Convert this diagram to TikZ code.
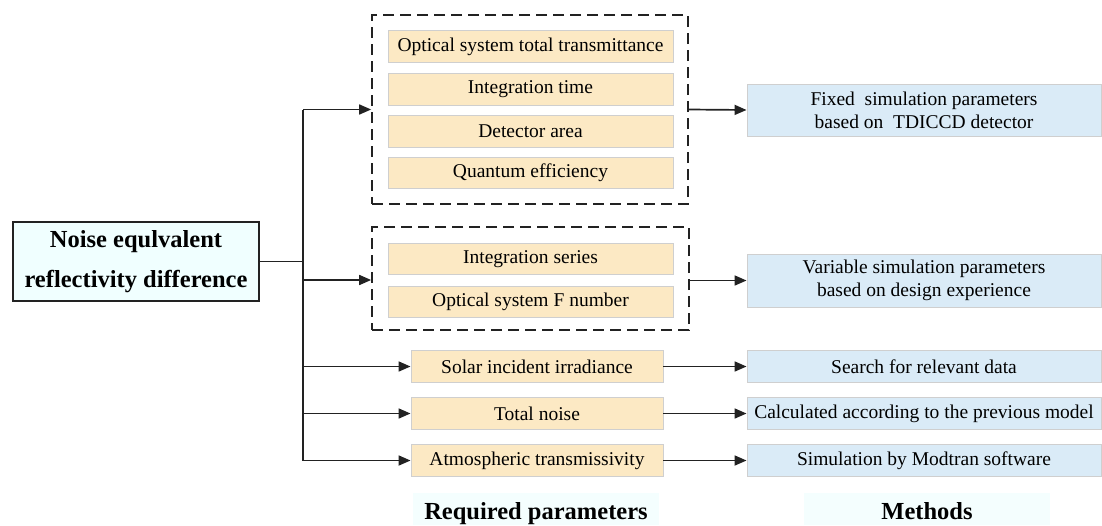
\documentclass[tikz,border=0pt]{standalone}
\usepackage{fontspec}
\setmainfont{Liberation Serif}
\usetikzlibrary{arrows.meta}
\definecolor{orfill}{HTML}{FCE9C4}
\definecolor{blfill}{HTML}{DAEBF7}
\definecolor{mainfill}{HTML}{F0FFFF}
\definecolor{labfill}{HTML}{F4FEFE}
\definecolor{boxline}{HTML}{CFCFCF}
\definecolor{darkline}{HTML}{222222}
\begin{document}
\begin{tikzpicture}[x=1pt,y=-1pt,
  txt/.style={font=\fontsize{19.5}{23}\selectfont},
  param/.style={txt,draw=boxline,line width=0.9pt,fill=orfill,inner sep=0pt,minimum height=31.5pt},
  inparam/.style={param,minimum width=285pt},
  outparam/.style={param,minimum width=252pt},
  method/.style={txt,draw=boxline,line width=0.9pt,fill=blfill,inner sep=0pt,minimum width=354pt,align=center},
  group/.style={draw=darkline,line width=1.7pt,dash pattern=on 11pt off 6pt,inner sep=0pt},
  conn/.style={draw=darkline,line width=1.7pt},
  arr/.style={conn,-{Triangle[length=12pt,width=10pt]}},
  label/.style={fill=labfill,font=\fontsize{24.5}{28}\selectfont\bfseries,inner xsep=0pt,inner ysep=0pt,minimum width=246pt,text height=26pt,text depth=6pt,anchor=base}
]
\useasboundingbox (0,0) rectangle (1102,525);

% main node
\node[draw=darkline,line width=1.1pt,fill=mainfill,minimum width=246pt,minimum height=79pt,inner sep=0pt,align=center,
  font=\fontsize{24.5}{40}\selectfont\bfseries] (main) at (136,261.5) {Noise equlvalent\\reflectivity difference};

% dashed groups
\node[group,minimum width=316pt,minimum height=189pt] (g1) at (530,109.5) {};
\node[group,minimum width=317pt,minimum height=103pt] (g2) at (530.5,278.5) {};

% inner parameters
\node[inparam] (p1) at (530.5,46.5) {Optical system total transmittance};
\node[inparam] (p2) at (530.5,89.5) {Integration time};
\node[inparam] (p3) at (530.5,131.5) {Detector area};
\node[inparam] (p4) at (530.5,173) {Quantum efficiency};
\node[inparam] (p5) at (530.5,259) {Integration series};
\node[inparam] (p6) at (530.5,302) {Optical system F number};

% outer parameters
\node[outparam] (q1) at (537,366.5) {Solar incident irradiance};
\node[outparam] (q2) at (537,413.5) {Total noise};
\node[outparam] (q3) at (537,460.5) {Atmospheric transmissivity};

% methods
\node[method,minimum height=52pt] (m1) at (924,110) {Fixed\ \ simulation parameters\\based on\ \ TDICCD detector};
\node[method,minimum height=53pt] (m2) at (924,280.5) {Variable simulation parameters\\based on design experience};
\node[method,minimum height=31.5pt] (m3) at (924,366.5) {Search for relevant data};
\node[method,minimum height=31.5pt] (m4) at (924,413.5) {Calculated according to the previous model};
\node[method,minimum height=31.5pt] (m5) at (924,460.5) {Simulation by Modtran software};

% labels
\node[label] (lreq) at (536,519) {Required parameters};
\node[label] (lmet) at (927,519) {Methods};

% connectors
\coordinate (tj) at (303,261.5);
\coordinate (ttop) at (303,109.5);
\coordinate (t2) at (303,280);
\coordinate (t3) at (303,366.5);
\coordinate (t4) at (303,413.5);
\coordinate (tbot) at (303,460.5);
\draw[conn] (main.east) -- (tj);
\draw[conn] (ttop) -- (tbot);
\draw[arr] (ttop) -- (g1.west);
\draw[arr] (t2) -- (t2 -| g2.west);
\draw[arr] (t3) -- (q1.west);
\draw[arr] (t4) -- (q2.west);
\draw[arr] (tbot) -- (q3.west);

\draw[arr] (g1.east) -- (m1.west);
\draw[arr] (g2.east |- m2.west) -- (m2.west);
\draw[arr] (q1.east) -- (m3.west);
\draw[arr] (q2.east) -- (m4.west);
\draw[arr] (q3.east) -- (m5.west);
\end{tikzpicture}
\end{document}
